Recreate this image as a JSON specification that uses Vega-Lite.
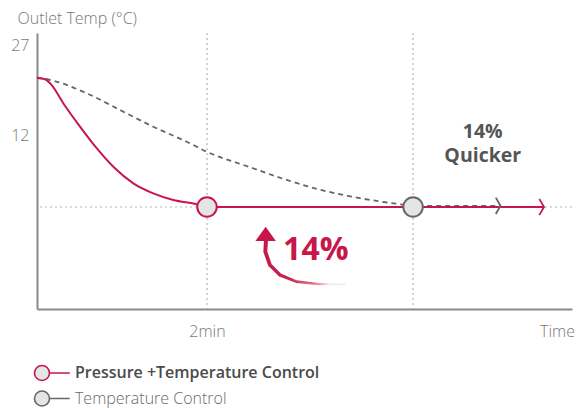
{
  "$schema": "https://vega.github.io/schema/vega-lite/v6.json",
  "width": 535,
  "height": 276,
  "autosize": {"type": "none"},
  "padding": {"left": 37, "top": 33, "right": 6, "bottom": 99},
  "background": "white",
  "config": {
    "view": {"stroke": null},
    "font": "Open Sans",
    "axis": {
      "grid": false, "ticks": false, "tickSize": 0,
      "domainColor": "#8a8a8a", "domainWidth": 2,
      "labelFont": "Open Sans", "labelFontSize": 16, "labelFontWeight": 300, "labelColor": "#777777",
      "labelOverlap": false, "labelFlush": false, "labelBound": false
    },
    "axisX": {"labelPadding": 14},
    "axisY": {"labelPadding": 8},
    "legend": {
      "title": null, "orient": "none", "direction": "vertical",
      "symbolType": "M-3.47,0A1.5,1.5 0 1,0 -0.47,0A1.5,1.5 0 1,0 -3.47,0Z M-0.47,0L3.58,0",
      "symbolSize": 100, "symbolStrokeWidth": 1.6, "symbolFillColor": "#e4e5e7", "symbolOpacity": 1,
      "labelFont": "Open Sans", "labelFontSize": 16, "labelOffset": 15.1, "labelLimit": 0
    }
  },
  "resolve": {"scale": {"stroke": "independent"}, "legend": {"stroke": "independent"}},
  "datasets": {
    "red": [
      {"x": 0, "y": 21.5}, {"x": 0.094, "y": 21.3}, {"x": 0.173, "y": 20.3}, {"x": 0.309, "y": 17.3},
      {"x": 0.506, "y": 13.4}, {"x": 0.702, "y": 9.8}, {"x": 0.898, "y": 6.7}, {"x": 1.133, "y": 3.95},
      {"x": 1.368, "y": 2.28}, {"x": 1.604, "y": 1.17}, {"x": 1.879, "y": 0.45}, {"x": 2, "y": 0},
      {"x": 5.965, "y": 0}
    ],
    "gray": [
      {"x": 0, "y": 21.6}, {"x": 0.192, "y": 21.05}, {"x": 0.585, "y": 18.95}, {"x": 0.976, "y": 16.17},
      {"x": 1.368, "y": 13.38}, {"x": 1.761, "y": 10.88}, {"x": 1.996, "y": 9.22}, {"x": 2.506, "y": 6.63},
      {"x": 2.892, "y": 4.72}, {"x": 3.278, "y": 3.08}, {"x": 3.664, "y": 1.83}, {"x": 4.048, "y": 0.9},
      {"x": 4.28, "y": 0.45}, {"x": 4.424, "y": 0.2}, {"x": 5.453, "y": 0.2}
    ],
    "circles": [
      {"series": "Pressure +Temperature Control", "x": 2, "y": 0},
      {"series": "Temperature Control", "x": 4.424, "y": 0}
    ],
    "tips": [
      {"series": "Pressure +Temperature Control", "x": 5.965, "y": 0},
      {"series": "Temperature Control", "x": 5.453, "y": 0.2}
    ],
    "vrules": [{"x": 2}, {"x": 4.424}],
    "hrules": [{"y": 0}],
    "curve": [
      {"i": 0, "x": 2.694, "y": -5.5, "w": 7},
      {"i": 1, "x": 2.686, "y": -7.45, "w": 6.8},
      {"i": 2, "x": 2.741, "y": -9.67, "w": 6.3},
      {"i": 3, "x": 2.859, "y": -11.33, "w": 5.4},
      {"i": 4, "x": 3.055, "y": -12.45, "w": 4.2},
      {"i": 5, "x": 3.29, "y": -12.83, "w": 3},
      {"i": 6, "x": 3.624, "y": -12.92, "w": 1.4}
    ],
    "head": [{"x": 2.69, "y": -4.475}],
    "notes": [
      {"x": 5.244, "y": 12.57, "text": "14%"},
      {"x": 5.244, "y": 8.42, "text": "Quicker"}
    ],
    "big": [{"x": 3.28, "y": -7.17, "text": "14%"}]
  },
  "layer": [
    {
      "data": {"name": "vrules"},
      "mark": {"type": "rule", "color": "#b5b5b5", "strokeWidth": 1.2, "strokeDash": [2, 3]},
      "encoding": {
        "x": {"field": "x", "type": "quantitative", "scale": {"domain": [0, 6.294], "nice": false, "zero": false},
          "axis": {"title": null, "values": [2, 6.118], "labelExpr": "datum.value == 2 ? '2min' : 'Time'"}}
      }
    },
    {
      "data": {"name": "hrules"},
      "mark": {"type": "rule", "color": "#b5b5b5", "strokeWidth": 1.2, "strokeDash": [2, 3]},
      "encoding": {
        "y": {"field": "y", "type": "quantitative", "scale": {"domain": [-17, 29], "nice": false, "zero": false},
          "axis": {"title": "Outlet Temp (°C)", "values": [12, 27], "titleAngle": 0, "titleAlign": "left", "titleBaseline": "middle",
            "titleX": -20, "titleY": -15, "titleFont": "Open Sans", "titleFontSize": 16, "titleFontWeight": 300, "titleColor": "#777777"}}
      }
    },
    {
      "data": {"name": "gray"},
      "mark": {"type": "line", "interpolate": "monotone", "color": "#666666", "strokeWidth": 1.8, "strokeDash": [5, 4]},
      "encoding": {
        "x": {"field": "x", "type": "quantitative"},
        "y": {"field": "y", "type": "quantitative"}
      }
    },
    {
      "data": {"name": "red"},
      "mark": {"type": "line", "interpolate": "monotone", "color": "#c7174a", "strokeWidth": 2},
      "encoding": {
        "x": {"field": "x", "type": "quantitative"},
        "y": {"field": "y", "type": "quantitative"}
      }
    },
    {
      "data": {"name": "tips"},
      "transform": [{"filter": "datum.series === 'Pressure +Temperature Control'"}],
      "mark": {"type": "point", "shape": "M-0.58,-1L0,0L-0.58,1", "filled": false, "stroke": "#c7174a", "size": 266, "strokeWidth": 1.8, "opacity": 1},
      "encoding": {
        "x": {"field": "x", "type": "quantitative"},
        "y": {"field": "y", "type": "quantitative"}
      }
    },
    {
      "data": {"name": "tips"},
      "transform": [{"filter": "datum.series === 'Temperature Control'"}],
      "mark": {"type": "point", "shape": "M-0.58,-1L0,0L-0.58,1", "filled": false, "stroke": "#666666", "size": 266, "strokeWidth": 1.8, "opacity": 1},
      "encoding": {
        "x": {"field": "x", "type": "quantitative"},
        "y": {"field": "y", "type": "quantitative"}
      }
    },
    {
      "data": {"name": "circles"},
      "transform": [{"filter": "datum.series === 'Pressure +Temperature Control'"}],
      "mark": {"type": "point", "shape": "circle", "filled": true, "fill": "#e4e5e7", "size": 380, "strokeWidth": 2, "opacity": 1},
      "encoding": {
        "x": {"field": "x", "type": "quantitative"},
        "y": {"field": "y", "type": "quantitative"},
        "stroke": {"field": "series", "type": "nominal",
          "scale": {"domain": ["Pressure +Temperature Control"], "range": ["#c7174a"]},
          "legend": {"legendX": 6.85, "legendY": 332, "labelFontWeight": 600, "labelColor": "#4a4a4a"}
        }
      }
    },
    {
      "data": {"name": "circles"},
      "transform": [{"filter": "datum.series === 'Temperature Control'"}],
      "mark": {"type": "point", "shape": "circle", "filled": true, "fill": "#e4e5e7", "size": 380, "strokeWidth": 2, "opacity": 1},
      "encoding": {
        "x": {"field": "x", "type": "quantitative"},
        "y": {"field": "y", "type": "quantitative"},
        "stroke": {"field": "series", "type": "nominal",
          "scale": {"domain": ["Temperature Control"], "range": ["#666666"]},
          "legend": {"legendX": 6.85, "legendY": 357.5, "labelFontWeight": 300, "labelColor": "#6a6a6a"}
        }
      }
    },
    {
      "data": {"name": "curve"},
      "mark": {"type": "trail", "color": {"gradient": "linear", "x1": 0, "y1": 0, "x2": 1, "y2": 0.3,
        "stops": [{"offset": 0, "color": "#c7174a"}, {"offset": 0.5, "color": "#c9204f"}, {"offset": 0.82, "color": "#de7189"}, {"offset": 1, "color": "#fbe6eb"}]}},
      "encoding": {
        "x": {"field": "x", "type": "quantitative"},
        "y": {"field": "y", "type": "quantitative"},
        "order": {"field": "i", "type": "quantitative"},
        "size": {"field": "w", "type": "quantitative", "scale": {"type": "identity"}, "legend": null}
      }
    },
    {
      "data": {"name": "head"},
      "mark": {"type": "point", "shape": "M-1,0.7L0,-0.7L1,0.7Z", "filled": true, "color": "#c7174a", "size": 420, "opacity": 1},
      "encoding": {
        "x": {"field": "x", "type": "quantitative"},
        "y": {"field": "y", "type": "quantitative"}
      }
    },
    {
      "data": {"name": "notes"},
      "mark": {"type": "text", "font": "Open Sans", "fontSize": 19.5, "fontWeight": "bold", "color": "#555555", "align": "center", "baseline": "middle"},
      "encoding": {
        "x": {"field": "x", "type": "quantitative"},
        "y": {"field": "y", "type": "quantitative"},
        "text": {"field": "text"}
      }
    },
    {
      "data": {"name": "big"},
      "mark": {"type": "text", "font": "Open Sans", "fontSize": 32, "fontWeight": "bold", "color": "#c7174a", "align": "center", "baseline": "middle", "letterSpacing": -1},
      "encoding": {
        "x": {"field": "x", "type": "quantitative"},
        "y": {"field": "y", "type": "quantitative"},
        "text": {"field": "text"}
      }
    }
  ]
}
